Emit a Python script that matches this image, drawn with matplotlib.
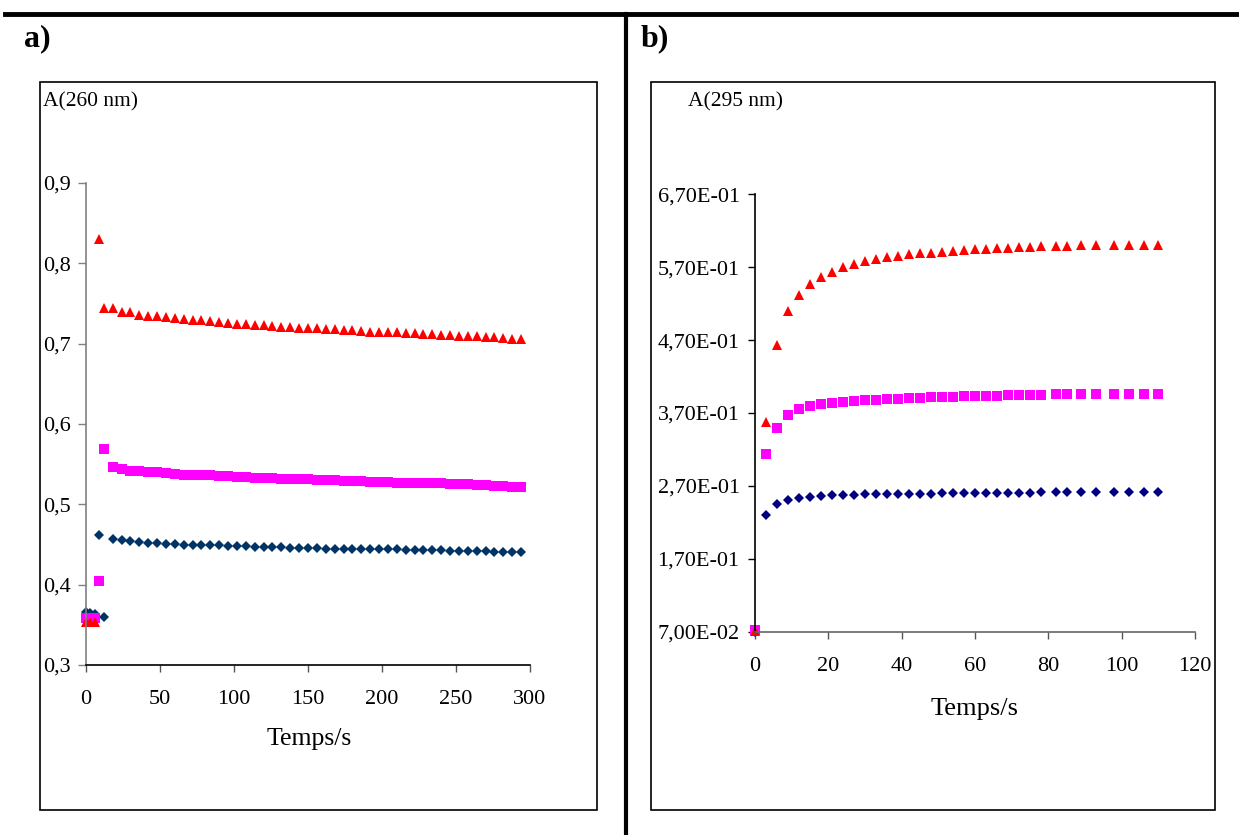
"""
Absorbance vs time at 260 nm (a) and 295 nm (b), three runs each.
"""

import matplotlib
matplotlib.use("Agg")
import matplotlib.pyplot as plt
from matplotlib.lines import Line2D
from matplotlib.patches import Rectangle
from matplotlib.ticker import FixedLocator, FuncFormatter

# ---- panel a) data : A(260 nm) ----
t_a = [0, 3, 6, 9, 12, 18, 24, 30, 36, 42, 48, 54, 60, 66, 72,
       78, 84, 90, 96, 102, 108, 114, 120, 126, 132,
       138, 144, 150, 156, 162, 168, 174, 180, 186, 192,
       198, 204, 210, 216, 222, 228, 234, 240, 246, 252,
       258, 264, 270, 276, 282, 288, 294]

a_tri = [0.354, 0.354, 0.354, 0.830, 0.744,
         0.744, 0.739, 0.739, 0.736, 0.735, 0.734, 0.733, 0.732, 0.731, 0.730,
         0.729, 0.728, 0.727, 0.726, 0.725, 0.724, 0.723, 0.723, 0.722, 0.721,
         0.721, 0.720, 0.719, 0.719, 0.718, 0.718, 0.717, 0.717, 0.716, 0.715,
         0.715, 0.714, 0.714, 0.713, 0.713, 0.712, 0.712, 0.711, 0.711, 0.710,
         0.710, 0.709, 0.708, 0.708, 0.707, 0.706, 0.706]

a_sq = [0.358, 0.358, 0.358, 0.404, 0.569,
        0.546, 0.544, 0.542, 0.541, 0.540, 0.540, 0.539, 0.538, 0.537, 0.537,
        0.536, 0.536, 0.535, 0.535, 0.534, 0.534, 0.533, 0.533, 0.533, 0.532,
        0.532, 0.531, 0.531, 0.530, 0.530, 0.530, 0.529, 0.529, 0.529, 0.528,
        0.528, 0.528, 0.527, 0.527, 0.527, 0.526, 0.526, 0.526, 0.525, 0.525,
        0.525, 0.524, 0.524, 0.523, 0.523, 0.522, 0.522]

a_dia = [0.366, 0.365, 0.3635, 0.4615, 0.360,
         0.457, 0.455, 0.454, 0.453, 0.452, 0.452, 0.451, 0.451, 0.450, 0.450,
         0.449, 0.449, 0.449, 0.448, 0.448, 0.448, 0.447, 0.447, 0.447, 0.447,
         0.446, 0.446, 0.446, 0.446, 0.445, 0.445, 0.445, 0.445, 0.445, 0.444,
         0.444, 0.444, 0.444, 0.443, 0.443, 0.443, 0.443, 0.443, 0.442, 0.442,
         0.442, 0.442, 0.442, 0.441, 0.441, 0.441, 0.441]

a_xticks = [0, 50, 100, 150, 200, 250, 300]
a_yticks = [0.3, 0.4, 0.5, 0.6, 0.7, 0.8, 0.9]

# ---- panel b) data : A(295 nm) ----
t_b = [0, 3, 6, 9, 12, 15, 18, 21, 24, 27, 30, 33, 36, 39, 42, 45, 48,
       51, 54, 57, 60, 63, 66, 69, 72, 75, 78,
       82, 85, 89, 93, 98, 102, 106, 110]

b_tri = [0.071, 0.357, 0.463, 0.510, 0.532, 0.547, 0.556, 0.564, 0.570,
         0.574, 0.578, 0.581, 0.584, 0.586, 0.588, 0.589, 0.590,
         0.591, 0.5925, 0.594, 0.5945, 0.5954, 0.596, 0.5968, 0.5975,
         0.598, 0.5985, 0.599, 0.5995, 0.600, 0.6003, 0.6006, 0.6008,
         0.601, 0.601]

b_sq = [0.072, 0.314, 0.350, 0.367, 0.375, 0.379, 0.382, 0.384, 0.3855,
        0.3865, 0.388, 0.3885, 0.389, 0.3898, 0.3905, 0.391, 0.3915,
        0.392, 0.3925, 0.393, 0.3935, 0.394, 0.394, 0.3945, 0.3948,
        0.395, 0.3952, 0.3955, 0.3957, 0.396, 0.396, 0.3962, 0.3963,
        0.3965, 0.3965]

b_dia = [0.070, 0.2296, 0.2456, 0.2507, 0.2538, 0.2552, 0.2561, 0.2571,
         0.2575, 0.258, 0.2583, 0.2585, 0.2589, 0.259, 0.2592, 0.2594,
         0.2595, 0.2598, 0.260, 0.2601, 0.2603, 0.2604, 0.2605, 0.2607,
         0.2608, 0.2609, 0.261, 0.2611, 0.2612, 0.2613, 0.2614, 0.2615,
         0.2615, 0.2616, 0.2616]

b_xticks = [0, 20, 40, 60, 80, 100, 120]
b_yticks = [0.07, 0.17, 0.27, 0.37, 0.47, 0.57, 0.67]

W, H = 1239, 835
plt.rcParams["font.family"] = "Liberation Serif"


def fx(px):
    return px / W


def fy(py):
    return 1 - py / H


fig = plt.figure(figsize=(W / 100, H / 100), dpi=100)

# frame lines of the table layout
fig.add_artist(Line2D([fx(5), 1.0], [fy(14), fy(14)], color="black", lw=3.5,
                      transform=fig.transFigure))
fig.add_artist(Line2D([fx(626), fx(626)], [fy(14), 0.0], color="black", lw=3,
                      transform=fig.transFigure))

# chart boxes
for x0, x1 in [(40, 597), (651, 1215)]:
    fig.add_artist(Rectangle((fx(x0), fy(809.5)), fx(x1) - fx(x0), fy(82) - fy(809.5),
                             fill=False, edgecolor="black", lw=1.2,
                             transform=fig.transFigure))

fig.text(fx(24), fy(39), "a)", fontsize=23, fontweight="bold", va="center", ha="left")
fig.text(fx(641), fy(39), "b)", fontsize=23, fontweight="bold", va="center", ha="left")


def style_axes(ax, left_color, bottom_color, ylen, ypad):
    for side in ("top", "right"):
        ax.spines[side].set_visible(False)
    ax.spines["left"].set_color(left_color)
    ax.spines["bottom"].set_color(bottom_color)
    ax.spines["left"].set_linewidth(1.2)
    ax.spines["bottom"].set_linewidth(1.2)
    ax.tick_params(axis="y", direction="out", length=ylen, width=1.0,
                   color=left_color, labelsize=16, pad=ypad)
    ax.tick_params(axis="x", direction="out", length=5, width=1.0,
                   color="#555555", labelsize=16, pad=13)
    ax.patch.set_alpha(0)


# ---- panel a) ----
ax1 = fig.add_axes([fx(86), fy(665), fx(530) - fx(86), fy(183) - fy(665)])
ax1.plot(t_a, a_dia, "D", color="#003366", ms=5.3, mew=0, clip_on=False)
ax1.plot(t_a, a_sq, "s", color="#FF00FF", ms=7.6, mew=0, clip_on=False)
ax1.plot(t_a, a_tri, "^", color="#FF0000", ms=7.8, mew=0, clip_on=False)
ax1.set_xlim(0, 300)
ax1.set_ylim(0.3, 0.9)
ax1.xaxis.set_major_locator(FixedLocator(a_xticks))
ax1.yaxis.set_major_locator(FixedLocator(a_yticks))
ax1.yaxis.set_major_formatter(FuncFormatter(lambda v, p: f"{v:.1f}".replace(".", ",")))
style_axes(ax1, "#808080", "black", 6, 5)

fig.text(fx(43), fy(101.7), "A(260 nm)", fontsize=15.5, ha="left", va="center")
fig.text(fx(309), fy(739), "Temps/s", fontsize=18.5, ha="center", va="center")

# ---- panel b) ----
ax2 = fig.add_axes([fx(755), fy(631.7), fx(1195) - fx(755), fy(194.3) - fy(631.7)])
ax2.plot(t_b, b_dia, "D", color="#000080", ms=5.5, mew=0, clip_on=False)
ax2.plot(t_b, b_sq, "s", color="#FF00FF", ms=7.6, mew=0, clip_on=False)
ax2.plot(t_b, b_tri, "^", color="#FF0000", ms=7.8, mew=0, clip_on=False)
ax2.set_xlim(0, 120)
ax2.set_ylim(0.07, 0.67)
ax2.xaxis.set_major_locator(FixedLocator(b_xticks))
ax2.yaxis.set_major_locator(FixedLocator(b_yticks))
ax2.yaxis.set_major_formatter(FuncFormatter(lambda v, p: f"{v:.2E}".replace(".", ",")))
style_axes(ax2, "black", "#666666", 5, 6)

fig.text(fx(688), fy(101.7), "A(295 nm)", fontsize=15.5, ha="left", va="center")
fig.text(fx(975), fy(709), "Temps/s", fontsize=19, ha="center", va="center")

fig.savefig("out.png", dpi=100)
